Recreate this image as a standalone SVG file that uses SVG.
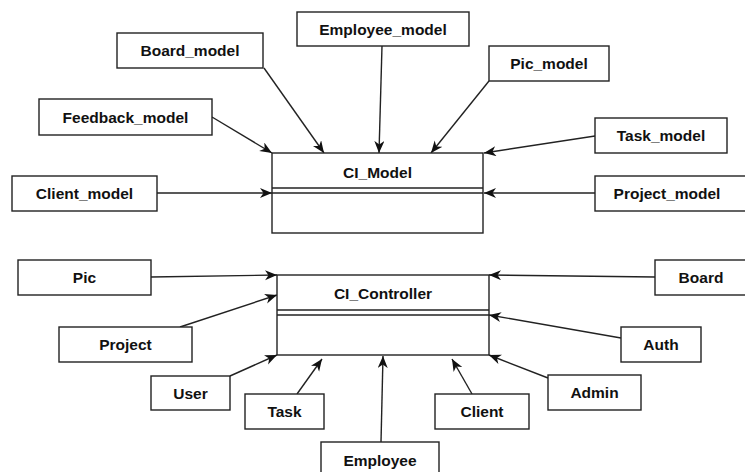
<svg xmlns="http://www.w3.org/2000/svg" width="745" height="472" viewBox="0 0 745 472">
<style>
.box{fill:#fff;stroke:#222;stroke-width:1.4}
.t{font-family:"Liberation Sans",Arial,sans-serif;font-weight:bold;font-size:15.5px;fill:#111;text-anchor:middle;dominant-baseline:central}
.c{stroke:#222;stroke-width:1.4;fill:none;marker-end:url(#ah)}
.sep{stroke:#222;stroke-width:1.4}
</style>
<defs>
<marker id="ah" markerUnits="userSpaceOnUse" markerWidth="13" markerHeight="11" refX="12" refY="5" orient="auto">
<path d="M0,0 L12,5 L0,10 L3.5,5 z" fill="#111"/>
</marker>
</defs>
<rect width="745" height="472" fill="#fff"/>
<g id="connectors">
<line class="c" x1="264" y1="68" x2="324" y2="153"/>
<line class="c" x1="382" y1="46" x2="379" y2="153"/>
<line class="c" x1="489" y1="81" x2="431" y2="153"/>
<line class="c" x1="212" y1="117" x2="272" y2="153"/>
<line class="c" x1="595" y1="136" x2="484" y2="153"/>
<line class="c" x1="157" y1="193" x2="272" y2="193"/>
<line class="c" x1="595" y1="193" x2="484" y2="193"/>
<line class="c" x1="151" y1="277" x2="277" y2="275"/>
<line class="c" x1="180" y1="327" x2="277" y2="295"/>
<line class="c" x1="230" y1="376" x2="277" y2="355"/>
<line class="c" x1="297" y1="394" x2="322" y2="359"/>
<line class="c" x1="381" y1="442" x2="383" y2="356"/>
<line class="c" x1="472" y1="394" x2="452" y2="359"/>
<line class="c" x1="548" y1="378" x2="489" y2="355"/>
<line class="c" x1="621" y1="338" x2="489" y2="315"/>
<line class="c" x1="655" y1="277" x2="489" y2="275"/>
</g>
<g id="ci_model">
<rect class="box" x="272" y="153" width="211" height="80"/>
<line class="sep" x1="272" y1="188" x2="483" y2="188"/>
<line class="sep" x1="272" y1="193" x2="483" y2="193"/>
<text class="t" x="377.5" y="172">CI_Model</text>
</g>
<g id="ci_controller">
<rect class="box" x="277" y="275" width="212" height="80"/>
<line class="sep" x1="277" y1="310" x2="489" y2="310"/>
<line class="sep" x1="277" y1="315" x2="489" y2="315"/>
<text class="t" x="383" y="293">CI_Controller</text>
</g>
<g id="employee_model"><rect class="box" x="297" y="12" width="172" height="34"/><text class="t" x="383" y="29">Employee_model</text></g>
<g id="board_model"><rect class="box" x="117" y="33" width="146" height="35"/><text class="t" x="190" y="50.5">Board_model</text></g>
<g id="pic_model"><rect class="box" x="489" y="46" width="120" height="35"/><text class="t" x="549" y="63.5">Pic_model</text></g>
<g id="feedback_model"><rect class="box" x="39" y="99" width="173" height="36"/><text class="t" x="125.5" y="117">Feedback_model</text></g>
<g id="task_model"><rect class="box" x="595" y="118" width="132" height="35"/><text class="t" x="661" y="135.5">Task_model</text></g>
<g id="client_model"><rect class="box" x="12" y="176" width="145" height="35"/><text class="t" x="84.5" y="193.5">Client_model</text></g>
<g id="project_model"><rect class="box" x="595" y="176" width="160" height="35"/><text class="t" x="667" y="193.5">Project_model</text></g>
<g id="pic"><rect class="box" x="18" y="260" width="133" height="35"/><text class="t" x="84.5" y="277.5">Pic</text></g>
<g id="board"><rect class="box" x="655" y="260" width="100" height="35"/><text class="t" x="701" y="277.5">Board</text></g>
<g id="project"><rect class="box" x="59" y="327" width="133" height="35"/><text class="t" x="125.5" y="344.5">Project</text></g>
<g id="auth"><rect class="box" x="621" y="327" width="80" height="35"/><text class="t" x="661" y="344.5">Auth</text></g>
<g id="user"><rect class="box" x="151" y="376" width="79" height="34"/><text class="t" x="190.5" y="393">User</text></g>
<g id="admin"><rect class="box" x="548" y="375" width="93" height="35"/><text class="t" x="594.5" y="392.5">Admin</text></g>
<g id="task"><rect class="box" x="245" y="394" width="79" height="35"/><text class="t" x="284.5" y="411.5">Task</text></g>
<g id="client"><rect class="box" x="435" y="394" width="94" height="35"/><text class="t" x="482" y="411.5">Client</text></g>
<g id="employee"><rect class="box" x="321" y="442" width="118" height="36"/><text class="t" x="380" y="460">Employee</text></g>
</svg>
